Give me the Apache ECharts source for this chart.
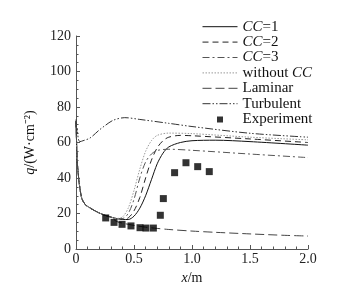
<!DOCTYPE html>
<html>
<head>
<meta charset="utf-8">
<script src="https://cdn.jsdelivr.net/npm/echarts@6/dist/echarts.min.js"></script>
<style>
  html, body { margin: 0; padding: 0; background: #fff; }
  #chart { width: 345px; height: 290px; }
</style>
</head>
<body>
<div id="chart"></div>
<script>
// heat flux q (W/cm^2) against distance x (m)
var legendNames = ['CC=1', 'CC=2', 'CC=3', 'without CC', 'Laminar', 'Turbulent', 'Experiment']

// shared leading edge part of the curves
var leading = [[0, 72], [0.005, 60], [0.01, 50], [0.02, 42], [0.03, 36], [0.05, 28.5], [0.08, 25], [0.1, 24],
  [0.15, 22], [0.2, 20.3], [0.25, 19], [0.3, 18]]

var cc1 = [[0.35, 17.2], [0.4, 16.7], [0.45, 16.6], [0.5, 18.5], [0.55, 23], [0.6, 30], [0.65, 39], [0.7, 48],
  [0.75, 54], [0.8, 57.5], [0.9, 60], [1.0, 61], [1.2, 61.3], [1.5, 60.5], [2.0, 58.5]]
var cc2 = [[0.35, 17.2], [0.4, 16.8], [0.45, 17.5], [0.5, 21.5], [0.55, 29], [0.6, 40], [0.65, 50], [0.7, 57],
  [0.75, 61], [0.8, 63], [0.9, 64], [1.0, 63.8], [1.5, 62], [2.0, 60]]
var cc3 = [[0.35, 17.2], [0.4, 17.2], [0.45, 20], [0.5, 28], [0.55, 40], [0.6, 49], [0.65, 53.5], [0.7, 55.5],
  [0.8, 56.2], [1.0, 55.6], [1.5, 53.5], [2.0, 51.5]]
var noCC = [[0.35, 17.2], [0.4, 18], [0.45, 23], [0.5, 33], [0.55, 45], [0.6, 55], [0.65, 61], [0.7, 64],
  [0.8, 65.3], [1.0, 65], [1.5, 63], [2.0, 61.5]]
var laminar = [[0.35, 15.5], [0.4, 14.6], [0.45, 13.9], [0.5, 13.3], [0.6, 12.3], [0.7, 11.6], [0.8, 11],
  [1.0, 10.1], [1.2, 9.4], [1.5, 8.5], [1.8, 7.7], [2.0, 7.3]]
var turbulent = [[0, 73], [0.005, 64], [0.01, 68], [0.02, 62], [0.034, 60.5], [0.06, 61], [0.12, 62.5],
  [0.2, 67], [0.25, 69.5], [0.32, 72.5], [0.42, 74], [0.55, 73], [0.8, 70.8], [1.0, 69], [1.5, 65.2], [2.0, 63]]
var experiment = [[0.256, 17.5], [0.328, 15], [0.397, 13.9], [0.474, 13], [0.552, 12], [0.603, 11.8],
  [0.667, 11.8], [0.727, 19], [0.753, 28.4], [0.85, 43], [0.948, 48.6], [1.049, 46.4], [1.149, 43.6]]

var xTicks = ['0', '0.5', '1.0', '1.5', '2.0']

var font = "'Liberation Serif', 'Times New Roman', serif"

function lineSeries (name, tail, color, dash, start) {
  return {
    name: name,
    type: 'line',
    data: (start || leading).concat(tail),
    smooth: 0.3,
    symbol: 'none',
    lineStyle: { color: color, width: 1, type: dash },
    itemStyle: { color: color },
    z: 3
  }
}

var legendData = legendNames.map(function (n) {
  if (n === 'Experiment') {
    // small square in the middle of a wide, empty icon box
    return { name: n, icon: 'path://M0,0L35,0L35,0.01Z M14.5,1h6v6h-6z' }
  }
  return { name: n, itemStyle: { opacity: 0 } }
})

var chart = echarts.init(document.getElementById('chart'))
chart.setOption({
  animation: false,
  textStyle: { fontFamily: font },
  grid: { left: 76, right: 37, top: 36, bottom: 41 },
  legend: {
    orient: 'vertical',
    left: 197,
    top: 14,
    itemWidth: 35,
    itemHeight: 8,
    itemGap: 0,
    data: legendData,
    lineStyle: { width: 1 },
    formatter: function (n) {
      if (n.indexOf('CC=') === 0) return '{i|CC}{n|' + n.slice(2) + '}'
      if (n === 'without CC') return '{n|without }{i|CC}'
      return '{n|' + n + '}'
    },
    textStyle: {
      fontFamily: font,
      fontSize: 15,
      color: '#111',
      lineHeight: 15.4,
      rich: {
        i: { fontFamily: font, fontSize: 15, fontStyle: 'italic', color: '#111', lineHeight: 15.4 },
        n: { fontFamily: font, fontSize: 15, color: '#111', lineHeight: 15.4 }
      }
    }
  },
  xAxis: {
    type: 'value',
    min: 0,
    max: 2,
    interval: 0.5,
    name: '{i|x}{n|/m}',
    nameLocation: 'middle',
    nameGap: 18,
    nameTextStyle: {
      rich: {
        i: { fontFamily: font, fontSize: 14, fontStyle: 'italic', color: '#111' },
        n: { fontFamily: font, fontSize: 14, color: '#111' }
      }
    },
    axisLine: { lineStyle: { color: '#555', width: 1 } },
    axisTick: { inside: true, length: 4, lineStyle: { color: '#555' } },
    minorTick: { show: true, splitNumber: 5, length: 2.5, lineStyle: { color: '#555' } },
    splitLine: { show: false },
    axisLabel: {
      fontFamily: font,
      fontSize: 14,
      color: '#222',
      margin: 3,
      formatter: function (v) { return xTicks[Math.round(v * 2)] }
    }
  },
  yAxis: {
    type: 'value',
    min: 0,
    max: 120,
    interval: 20,
    name: '{i|q}{n|/(W·cm⁻²)}',
    nameLocation: 'middle',
    nameGap: 39,
    nameRotate: 90,
    nameTextStyle: {
      rich: {
        i: { fontFamily: font, fontSize: 14, fontStyle: 'italic', color: '#111' },
        n: { fontFamily: font, fontSize: 14, color: '#111' }
      }
    },
    axisLine: { show: true, lineStyle: { color: '#555', width: 1 } },
    axisTick: { show: true, inside: true, length: 4, lineStyle: { color: '#555' } },
    minorTick: { show: true, splitNumber: 4, length: 2.5, lineStyle: { color: '#555' } },
    splitLine: { show: false },
    axisLabel: { fontFamily: font, fontSize: 14, color: '#222', margin: 5 }
  },
  series: [
    lineSeries('CC=1', cc1, '#111', 'solid'),
    lineSeries('CC=2', cc2, '#222', [6, 4]),
    lineSeries('CC=3', cc3, '#555', [7, 3, 2, 3]),
    lineSeries('without CC', noCC, '#999', [1.5, 1.5]),
    lineSeries('Laminar', laminar, '#444', [9, 4]),
    lineSeries('Turbulent', turbulent, '#333', [8, 2, 1.5, 2, 1.5, 2], []),
    {
      name: 'Experiment',
      type: 'scatter',
      data: experiment,
      symbol: 'rect',
      symbolSize: 7,
      itemStyle: { color: '#000' },
      z: 5
    }
  ]
})
</script>
</body>
</html>
